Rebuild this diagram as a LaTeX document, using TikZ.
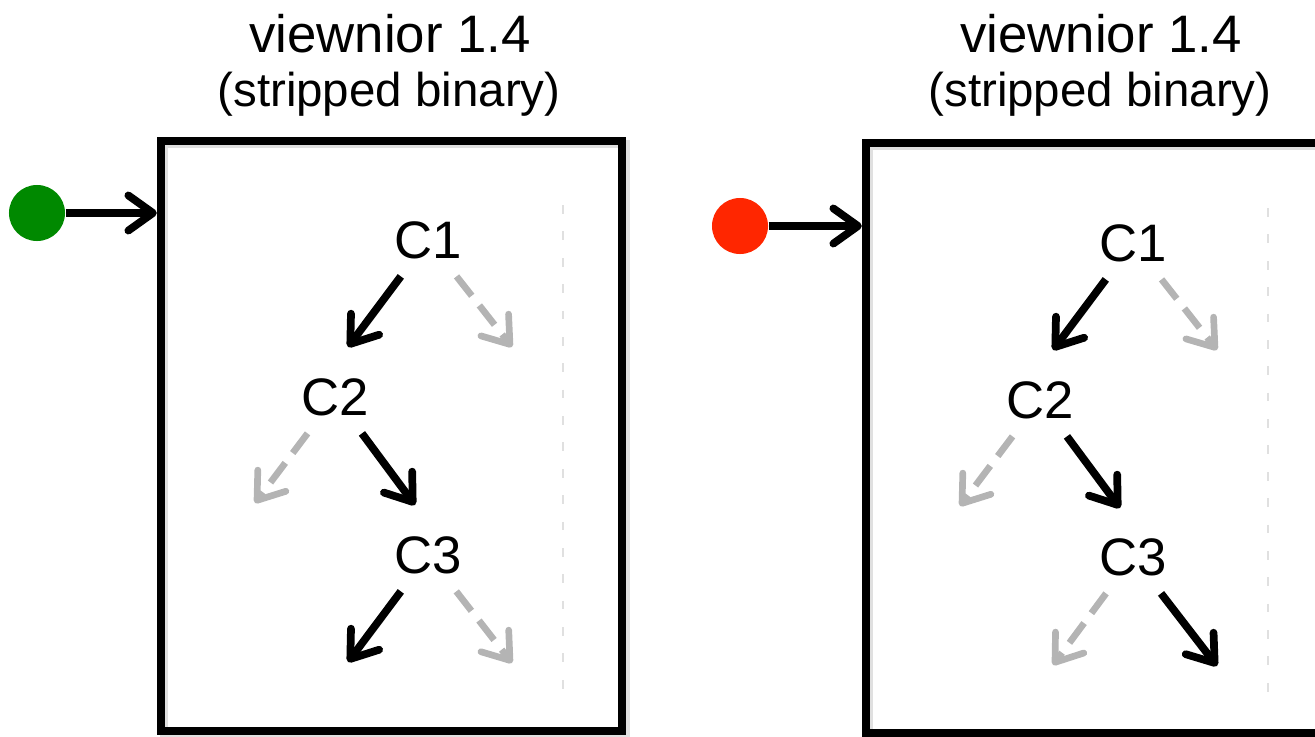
\documentclass[tikz,border=0pt]{standalone}
\usepackage{fontspec}
\setmainfont{Liberation Sans}
\usetikzlibrary{arrows.meta}
\usetikzlibrary{positioning}

\definecolor{hitgreen}{RGB}{0,137,0}
\definecolor{missred}{RGB}{255,38,0}
\definecolor{untaken}{RGB}{180,180,180}

\begin{document}
\begin{tikzpicture}[x=0.01cm, y=-0.01cm,
                    >={Straight Barb[length=7pt, width=10pt, round]},
                    binary/.style = {draw, line width=2.3pt, minimum width=4.61cm,
                                     minimum height=5.9cm, inner sep=0pt,
                                     preaction={draw=black!12, line width=2.3pt,
                                                transform canvas={shift={(1pt,-1pt)}}}},
                    input/.style = {circle, inner sep=0pt, minimum size=0.56cm},
                    feed/.style = {->, line width=2.2pt},
                    cond/.style = {font=\fontsize{15}{18}\selectfont, inner sep=0.17cm},
                    taken/.style = {->, line width=2.2pt},
                    nottaken/.style = {->, line width=1.9pt, draw=untaken,
                                       dash pattern=on 7pt off 3.5pt},
                    fence/.style = {draw=black!12, line width=0.6pt,
                                    dash pattern=on 2.5pt off 5pt},
                    title/.style = {font=\fontsize{15}{18}\selectfont, inner sep=0pt, anchor=base},
                    subtitle/.style = {font=\fontsize{13.5}{16}\selectfont, inner sep=0pt, anchor=base}]
  \useasboundingbox (0,0) rectangle (1315,736);

  % left run
  \node [title] (name1) at (390,52) {viewnior 1.4};
  \node [subtitle] (kind1) at (389,106) {(stripped binary)};
  \node [binary] (box1) at (391.5,436) {};
  \node [input, fill=hitgreen] (in1) at (37,213) {};
  \draw [feed] (in1) -- (in1 -| box1.west);
  \draw [fence] (563,205) -- (563,690);

  \node [cond] (lc1) at (428,240) {C1};
  \node [cond] (lc2) at (335,397) {C2};
  \node [cond] (lc3) at (428,555) {C3};
  \coordinate (lc1-left) at (348,347);
  \coordinate (lc1-right) at (512,347);
  \coordinate (lc2-left) at (255,503);
  \coordinate (lc2-right) at (415,505);
  \coordinate (lc3-left) at (348,662);
  \coordinate (lc3-right) at (512,663);
  \draw [taken] (lc1) -- (lc1-left);
  \draw [nottaken] (lc1) -- (lc1-right);
  \draw [nottaken] (lc2) -- (lc2-left);
  \draw [taken] (lc2) -- (lc2-right);
  \draw [taken] (lc3) -- (lc3-left);
  \draw [nottaken] (lc3) -- (lc3-right);

  % right run
  \node [title] (name2) at (1101,52) {viewnior 1.4};
  \node [subtitle] (kind2) at (1100,106) {(stripped binary)};
  \node [binary] (box2) at (1096.5,438) {};
  \node [input, fill=missred] (in2) at (740,226) {};
  \draw [feed] (in2) -- (in2 -| box2.west);
  \draw [fence] (1268,208) -- (1268,693);

  \node [cond] (rc1) at (1133,243) {C1};
  \node [cond] (rc2) at (1040,400) {C2};
  \node [cond] (rc3) at (1133,557) {C3};
  \coordinate (rc1-left) at (1053,350);
  \coordinate (rc1-right) at (1217,350);
  \coordinate (rc2-left) at (960,506);
  \coordinate (rc2-right) at (1120,508);
  \coordinate (rc3-left) at (1053,665);
  \coordinate (rc3-right) at (1217,666);
  \draw [taken] (rc1) -- (rc1-left);
  \draw [nottaken] (rc1) -- (rc1-right);
  \draw [nottaken] (rc2) -- (rc2-left);
  \draw [taken] (rc2) -- (rc2-right);
  \draw [nottaken] (rc3) -- (rc3-left);
  \draw [taken] (rc3) -- (rc3-right);
\end{tikzpicture}
\end{document}
